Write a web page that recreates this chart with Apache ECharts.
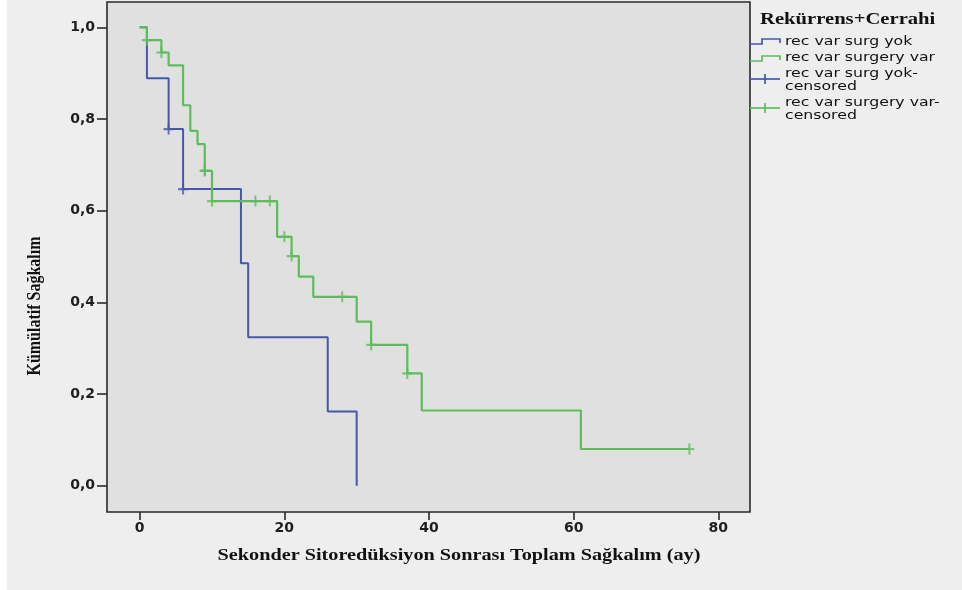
<!DOCTYPE html>
<html>
<head>
<meta charset="utf-8">
<script src="https://cdn.jsdelivr.net/npm/echarts@6/dist/echarts.min.js"></script>
<style>
  html, body { margin: 0; padding: 0; }
  body { background: linear-gradient(to right, #ffffff 7px, #eeeeee 7px); }
  #chart { width: 962px; height: 590px; }
</style>
</head>
<body>
<div id="chart"></div>
<script>
// Kaplan-Meier survival: recurrence + surgery groups
const yokTimes = [0, 1, 4, 6, 14, 15, 26, 30];
const yokSurv  = [1.0, 0.889, 0.778, 0.647, 0.485, 0.324, 0.162, 0.0];
const yokCensorTimes = [4, 6];
const yokCensorSurv  = [0.778, 0.647];

const varTimes = [0, 1, 3, 4, 6, 7, 8, 9, 10, 19, 21, 22, 24, 30, 32, 37, 39, 61, 76];
const varSurv  = [1.0, 0.972, 0.945, 0.917, 0.830, 0.774, 0.745, 0.687, 0.621, 0.543,
                  0.501, 0.456, 0.412, 0.358, 0.307, 0.245, 0.164, 0.080, 0.080];
const varCensorTimes = [1, 3, 9, 9, 10, 16, 18, 20, 21, 28, 32, 37, 76];
const varCensorSurv  = [0.972, 0.945, 0.687, 0.687, 0.621, 0.621, 0.621, 0.543, 0.501, 0.412, 0.307, 0.245, 0.080];

const xTicks = [0, 20, 40, 60, 80];
const yTicks = [0, 0.2, 0.4, 0.6, 0.8, 1.0];

const seriesNames = [
  'rec var surg yok',
  'rec var surgery var',
  'rec var surg yok-censored',
  'rec var surgery var-censored'
];
const legendTitle = 'Rekürrens+Cerrahi';
const xTitle = 'Sekonder Sitoredüksiyon Sonrası Toplam Sağkalım (ay)';
const yTitle = 'Kümülatif Sağkalım';

const BLUE = '#4658aa';
const GREEN = '#5cbd5a';
const AXIS = '#2a2a2a';
const PLUS = 'path://M0,4 L10,4 L10,6 L0,6 Z M4,0 L6,0 L6,10 L4,10 Z';

const zip = (a, b) => a.map((v, i) => [v, b[i]]);

const chart = echarts.init(document.getElementById('chart'), null, { renderer: 'canvas' });

// legend drawn as graphic: two step icons, two censor icons
const legendGraphics = [
  { type: 'text', x: 760, y: 20, scaleX: 1.29,
    style: { text: legendTitle, font: 'bold 16px "Liberation Serif"', fill: '#111', align: 'left', verticalAlign: 'middle' } },
  { type: 'polyline', shape: { points: [[750, 44], [762, 44], [762, 39], [780, 39], [780, 43]] },
    style: { stroke: BLUE, lineWidth: 1.7, fill: null } },
  { type: 'polyline', shape: { points: [[750, 61], [762, 61], [762, 56], [780, 56], [780, 60]] },
    style: { stroke: GREEN, lineWidth: 1.7, fill: null } },
  { type: 'line', shape: { x1: 750, y1: 79, x2: 780, y2: 79 }, style: { stroke: BLUE, lineWidth: 1.7 } },
  { type: 'line', shape: { x1: 765, y1: 74, x2: 765, y2: 84 }, style: { stroke: BLUE, lineWidth: 1.7 } },
  { type: 'line', shape: { x1: 750, y1: 108, x2: 780, y2: 108 }, style: { stroke: GREEN, lineWidth: 1.7 } },
  { type: 'line', shape: { x1: 765, y1: 103, x2: 765, y2: 113 }, style: { stroke: GREEN, lineWidth: 1.7 } }
];
const legendTextRows = [
  { name: seriesNames[0], y: 42 },
  { name: seriesNames[1], y: 58 },
  { name: seriesNames[2].replace('-', '-\n'), y: 80.5 },
  { name: seriesNames[3].replace('-', '-\n'), y: 109 }
];
legendTextRows.forEach(r => {
  legendGraphics.push({
    type: 'text', x: 785, y: r.y, scaleX: 1.21,
    style: { text: r.name, font: '13px "DejaVu Sans"', fill: '#111', align: 'left',
             verticalAlign: 'middle', lineHeight: 13 }
  });
});

const option = {
  animation: false,
  backgroundColor: 'transparent',
  grid: {
    left: 107, top: 2, width: 643, height: 510,
    show: true, backgroundColor: '#e0e0e0', borderColor: AXIS, borderWidth: 1.6
  },
  xAxis: {
    type: 'value', min: -4.52, max: 84.38,
    splitLine: { show: false },
    axisLine: { show: false, onZero: false },
    axisTick: { show: true, customValues: xTicks, length: 8, lineStyle: { color: AXIS, width: 1.6 } },
    axisLabel: { customValues: xTicks, margin: 9, color: '#1e1e1e',
                 fontFamily: 'DejaVu Sans', fontWeight: 'bold', fontSize: 14 }
  },
  yAxis: {
    type: 'value', min: -0.0574, max: 1.0552,
    splitLine: { show: false },
    axisLine: { show: false, onZero: false },
    axisTick: { show: true, customValues: yTicks, length: 10, lineStyle: { color: AXIS, width: 1.6 } },
    axisLabel: { customValues: yTicks, margin: 12, color: '#1e1e1e',
                 fontFamily: 'DejaVu Sans', fontWeight: 'bold', fontSize: 14,
                 formatter: v => v.toFixed(1).replace('.', ',') }
  },
  series: [
    { name: seriesNames[0], type: 'line', step: 'end', showSymbol: false,
      data: zip(yokTimes, yokSurv), lineStyle: { color: BLUE, width: 2 }, z: 2 },
    { name: seriesNames[1], type: 'line', step: 'end', showSymbol: false,
      data: zip(varTimes, varSurv), lineStyle: { color: GREEN, width: 2.2 }, z: 3 },
    { name: seriesNames[2], type: 'scatter', symbol: PLUS, symbolSize: [10, 11],
      data: zip(yokCensorTimes, yokCensorSurv), itemStyle: { color: BLUE }, z: 4 },
    { name: seriesNames[3], type: 'scatter', symbol: PLUS, symbolSize: [10, 11],
      data: zip(varCensorTimes, varCensorSurv), itemStyle: { color: GREEN }, z: 5 }
  ],
  graphic: [
    { type: 'text', x: 459, y: 556, scaleX: 1.19,
      style: { text: xTitle, font: 'bold 17px "Liberation Serif"', fill: '#111', align: 'center', verticalAlign: 'middle' } },
    { type: 'text', x: 35, y: 306, rotation: Math.PI / 2, scaleY: 1.2,
      style: { text: yTitle, font: 'bold 16px "Liberation Serif"', fill: '#111', align: 'center', verticalAlign: 'middle' } }
  ].concat(legendGraphics)
};

chart.setOption(option);
</script>
</body>
</html>
